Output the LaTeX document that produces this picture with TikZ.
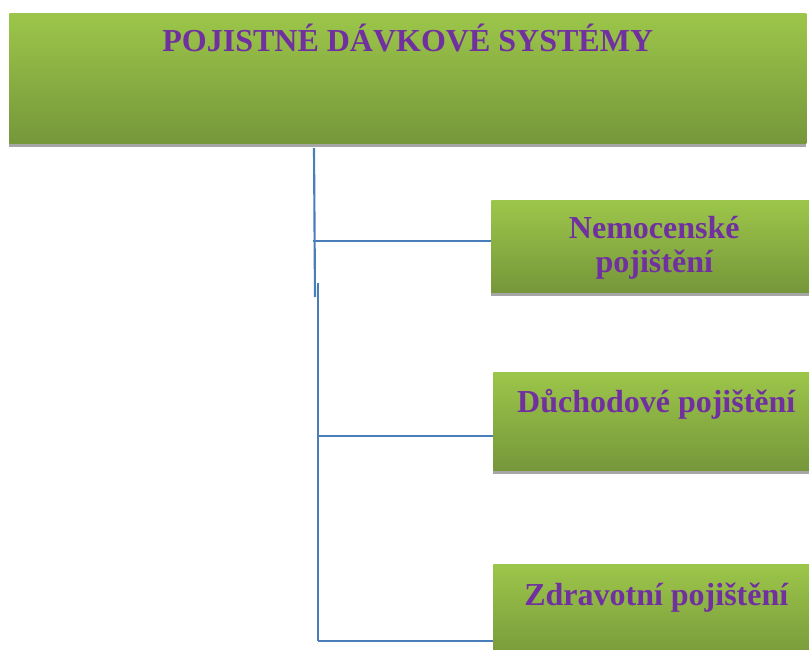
\documentclass[tikz,border=0pt]{standalone}
\usepackage{fontspec}
\setmainfont{Liberation Serif}
\usetikzlibrary{shadows}
\definecolor{boxtop}{HTML}{9CC64A}
\definecolor{boxbottom}{HTML}{76973A}
\definecolor{titlepurple}{HTML}{7030A0}
\definecolor{linkblue}{HTML}{4A7EBB}
\definecolor{shadowgray}{HTML}{A6A6A6}
\tikzset{
  greenbox/.style={rectangle,top color=boxtop,bottom color=boxbottom,inner sep=0pt,
    align=center,text=titlepurple,font=\fontsize{24}{25.5}\selectfont\bfseries,
    drop shadow={shadow xshift=0pt,shadow yshift=-3pt,fill=shadowgray,opacity=1}},
  branchbox/.style={greenbox,anchor=north west,minimum width=244.5pt},
  link/.style={draw=linkblue,line width=1.6pt}
}

\begin{document}
\begin{tikzpicture}[x=0.75pt,y=-0.75pt]
    \clip (0,0) rectangle (809,649);
    \node[greenbox,anchor=north west,minimum width=597.75pt,text height=29pt,text depth=68.5pt]
        (systemy) at (9,13) {POJISTNÉ DÁVKOVÉ SYSTÉMY};
    \node[branchbox,text height=54pt,text depth=15pt] (nemoc) at (491,200) {Nemocenské\\pojištění};
    \node[branchbox,text height=30pt,text depth=43.5pt] (duchod) at (493,372) {Důchodové pojištění};
    \node[branchbox,text height=30.75pt,text depth=42.75pt] (zdrav) at (493,564) {Zdravotní pojištění};

    % trunk and branches
    \coordinate (trunktop) at (314,148);
    \coordinate (trunkend) at (315,297);
    \coordinate (trunkrest) at (318,283);
    \coordinate (b1) at (313,241);
    \coordinate (b2) at (318,436);
    \coordinate (b3) at (318,641);
    \draw[link] (trunktop) -- (trunkend);
    \draw[link] (trunkrest) -- (b3);
    \draw[link] (b1) -- (b1 -| nemoc.west);
    \draw[link] (b2) -- (b2 -| duchod.west);
    \draw[link] (b3) -- (b3 -| zdrav.west);
\end{tikzpicture}
\end{document}
